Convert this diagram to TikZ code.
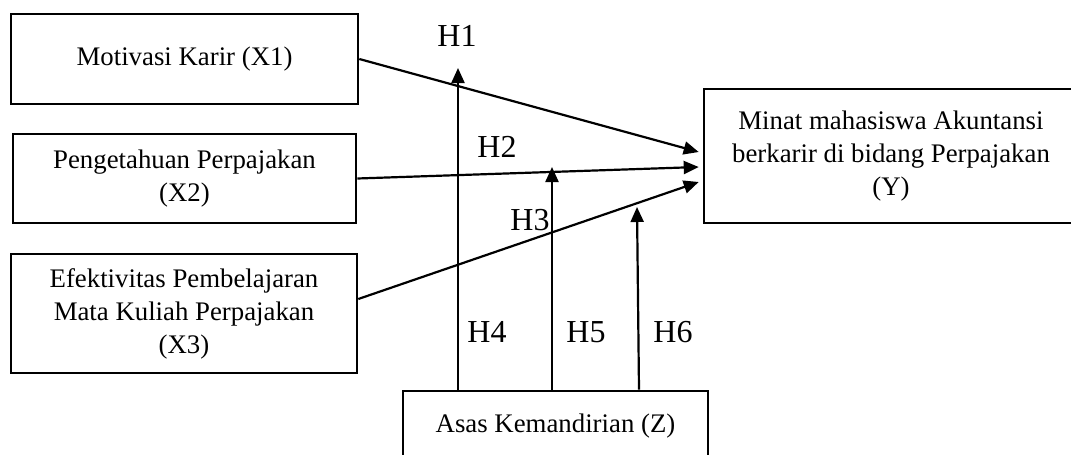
\documentclass[tikz,border=0pt]{standalone}
\usepackage{fontspec}
\setmainfont{Liberation Serif}
\usetikzlibrary{calc,arrows.meta}
\tikzset{
  varbox/.style={draw, line width=1.3pt, inner sep=0pt, align=center,
    font=\fontsize{13.4}{16.5}\selectfont},
  hlabel/.style={inner sep=0pt, font=\fontsize{16}{18}\selectfont},
  path/.style={line width=1.1pt, -{Triangle[length=7.5pt,width=6.5pt]}}
}
\begin{document}
\begin{tikzpicture}[x=0.5pt,y=-0.5pt]
			%%%%% START %%%%%
			\useasboundingbox (0,0) rectangle (1071,455);
			\clip (0,0) rectangle (1071,455);
			
			\node[varbox, minimum width=173.5pt, minimum height=45pt] (x1) at (184.5, 59) {Motivasi Karir (X1)};
			\node[varbox, minimum width=171.5pt, minimum height=44.5pt] (x2) at (184.5, 178.5) {Pengetahuan Perpajakan\\(X2)};
			\node[varbox, minimum width=173pt, minimum height=59.5pt] (x3) at (184, 313.5) {Efektivitas Pembelajaran\\Mata Kuliah Perpajakan\\(X3)};
			\node[varbox, minimum width=187pt, minimum height=67pt] (y) at (891, 156) {Minat mahasiswa Akuntansi\\berkarir di bidang Perpajakan\\(Y)};
			\node[varbox, minimum width=152.5pt, minimum height=35pt] (z) at (555.5, 426) {Asas Kemandirian (Z)};
			
			\draw[path] (x1.east) -- ($(y.west)+(-4,-4)$);
			\draw[path] (x2.east) -- ($(y.west)+(-4,11)$);
			\draw[path] ($(x3.east)+(0,-14.5)$) -- ($(y.west)+(-4,26)$);
			
			\coordinate (h4tip) at (458, 68);
			\coordinate (h5tip) at (552, 167);
			\coordinate (h6tip) at (637, 207);
			\draw[path] (z.north -| h4tip) -- (h4tip);
			\draw[path] (z.north -| h5tip) -- (h5tip);
			\draw[path] ($(z.north)+(83.5,0)$) -- (h6tip);
			
			\node[hlabel] (h1) at (457, 36) {H1};
			\node[hlabel] (h2) at (497, 147) {H2};
			\node[hlabel] (h3) at (530, 220) {H3};
			\node[hlabel] (h4) at (487, 332) {H4};
			\node[hlabel] (h5) at (586, 332) {H5};
			\node[hlabel] (h6) at (673, 332) {H6};
			%%%%% END %%%%%
		\end{tikzpicture}
\end{document}
